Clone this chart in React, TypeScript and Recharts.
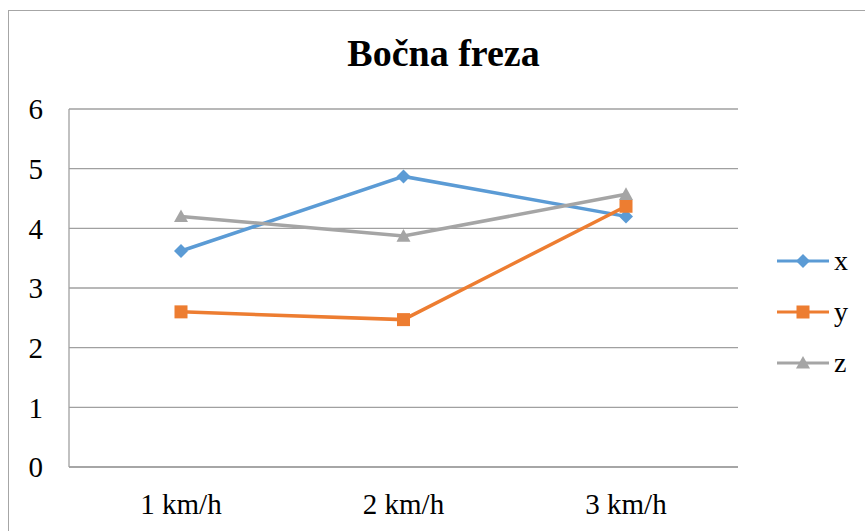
import React from "react";
import {
  LineChart,
  Line,
  XAxis,
  YAxis,
  CartesianGrid,
  Legend,
} from "recharts";

const categories = ["1 km/h", "2 km/h", "3 km/h"];
const xValues = [3.62, 4.87, 4.2];
const yValues = [2.6, 2.47, 4.37];
const zValues = [4.2, 3.87, 4.57];
const yTicks = [0, 1, 2, 3, 4, 5, 6];

const data = categories.map((c, i) => ({
  name: c,
  x: xValues[i],
  y: yValues[i],
  z: zValues[i],
}));

const FONT = '"Liberation Serif", "Times New Roman", serif';
const BLUE = "#5b9bd5";
const ORANGE = "#ed7d31";
const GRAY = "#a5a5a5";

const Diamond = (props: any) => {
  const { cx, cy } = props;
  if (cx == null || cy == null) return null;
  const r = 7;
  return (
    <path
      key={`d-${cx}`}
      d={`M${cx},${cy - r}L${cx + r},${cy}L${cx},${cy + r}L${cx - r},${cy}Z`}
      fill={BLUE}
    />
  );
};

const Square = (props: any) => {
  const { cx, cy } = props;
  if (cx == null || cy == null) return null;
  const r = 6.5;
  return <rect key={`s-${cx}`} x={cx - r} y={cy - r} width={r * 2} height={r * 2} fill={ORANGE} />;
};

const Triangle = (props: any) => {
  const { cx, cy } = props;
  if (cx == null || cy == null) return null;
  const r = 7;
  return (
    <path
      key={`t-${cx}`}
      d={`M${cx},${cy - r}L${cx + r},${cy + r * 0.8}L${cx - r},${cy + r * 0.8}Z`}
      fill={GRAY}
    />
  );
};

const legendItems = [
  { label: "x", color: BLUE, shape: "diamond" },
  { label: "y", color: ORANGE, shape: "square" },
  { label: "z", color: GRAY, shape: "triangle" },
];

const LegendContent = () => (
  <div style={{ fontFamily: FONT, fontSize: 28, color: "#000" }}>
    {legendItems.map((it) => (
      <div key={it.label} style={{ display: "flex", alignItems: "center", height: 51 }}>
        <svg width={56} height={20}>
          <line x1={2} y1={10} x2={54} y2={10} stroke={it.color} strokeWidth={3} />
          {it.shape === "diamond" && (
            <path d="M28,3L35,10L28,17L21,10Z" fill={it.color} />
          )}
          {it.shape === "square" && <rect x={21.5} y={3.5} width={13} height={13} fill={it.color} />}
          {it.shape === "triangle" && <path d="M28,3L35,15.5L21,15.5Z" fill={it.color} />}
        </svg>
        <span style={{ marginLeft: 3, lineHeight: 1 }}>{it.label}</span>
      </div>
    ))}
  </div>
);

export default function App() {
  return (
    <div
      style={{
        position: "absolute",
        left: 0,
        top: 0,
        width: 865,
        height: 531,
        background: "#fff",
        overflow: "hidden",
        fontFamily: FONT,
      }}
    >
      <div
        style={{
          position: "absolute",
          left: 8,
          top: 10,
          width: 900,
          height: 600,
          border: "1px solid #a6a6a6",
        }}
      />
      <div
        style={{
          position: "absolute",
          left: 0,
          top: 31,
          width: 887,
          textAlign: "center",
          fontSize: 38,
          fontWeight: "bold",
          color: "#000",
        }}
      >
        Bočna freza
      </div>
      <div style={{ position: "absolute", left: 0, top: 0 }}>
        <LineChart
          width={865}
          height={531}
          data={data}
          margin={{ top: 109, right: 37, left: 0, bottom: 0 }}
        >
          <CartesianGrid vertical={false} stroke="#a0a0a0" strokeWidth={1.3} />
          <XAxis
            dataKey="name"
            height={64}
            padding={{ left: 112, right: 112 }}
            axisLine={{ stroke: "#a0a0a0", strokeWidth: 1.3 }}
            tickLine={false}
            tickSize={0}
            tickMargin={26}
            tick={{ fill: "#000", fontSize: 29, fontFamily: FONT }}
          />
          <YAxis
            width={69}
            domain={[0, 6]}
            ticks={yTicks}
            interval={0}
            axisLine={{ stroke: "#a0a0a0", strokeWidth: 1.3 }}
            tickLine={false}
            tickSize={0}
            tickMargin={26}
            tick={{ fill: "#000", fontSize: 29, fontFamily: FONT }}
          />
          <Legend
            layout="vertical"
            align="right"
            verticalAlign="top"
            content={<LegendContent />}
            wrapperStyle={{ left: 775, top: 235, width: 90 }}
          />
          <Line
            dataKey="x"
            stroke={BLUE}
            strokeWidth={3.5}
            dot={<Diamond />}
            activeDot={false}
            isAnimationActive={false}
          />
          <Line
            dataKey="y"
            stroke={ORANGE}
            strokeWidth={3.5}
            dot={<Square />}
            activeDot={false}
            isAnimationActive={false}
          />
          <Line
            dataKey="z"
            stroke={GRAY}
            strokeWidth={3.5}
            dot={<Triangle />}
            activeDot={false}
            isAnimationActive={false}
          />
        </LineChart>
      </div>
    </div>
  );
}
